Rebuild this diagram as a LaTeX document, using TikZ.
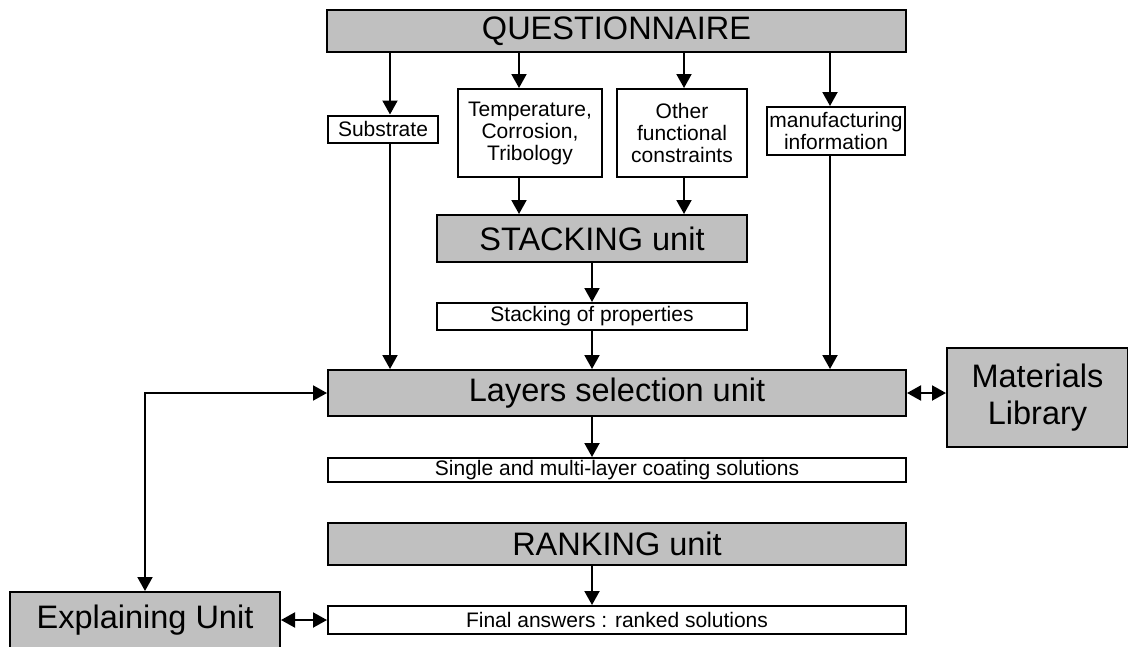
\documentclass[tikz,border=0pt]{standalone}
\usepackage{fontspec}
\setmainfont{Liberation Sans}
\usetikzlibrary{arrows.meta}
\definecolor{boxgray}{HTML}{C0C0C0}
\newcommand{\bigtxt}{\fontsize{32.5}{37}\selectfont}
\newcommand{\smalltxt}{\fontsize{21}{22}\selectfont}
\begin{document}
\begin{tikzpicture}[x=1pt, y=-1pt,
  unitbox/.style={draw, line width=2pt, fill=boxgray, inner sep=0pt, align=center, font=\bigtxt},
  infobox/.style={draw, line width=2pt, fill=white, inner sep=0pt, align=center, font=\smalltxt},
  arr/.style={line width=2pt, -{Triangle[length=14pt, width=15pt]}},
  arrboth/.style={line width=2pt, {Triangle[length=14pt, width=15pt]}-{Triangle[length=14pt, width=15pt]}}]
\useasboundingbox (0,0) rectangle (1128,646);
% units
\node[unitbox, minimum width=579pt, minimum height=42pt] (quest) at (616.5,31) {QUESTIONNAIRE};
\node[unitbox, minimum width=310pt, minimum height=47pt] (stack) at (592,238.5) {STACKING unit};
\node[unitbox, minimum width=578pt, minimum height=46pt] (layers) at (617,393) {Layers selection unit};
\node[unitbox, minimum width=181pt, minimum height=99pt] (matlib) at (1037.5,397.5) {Materials\\Library};
\node[unitbox, minimum width=578pt, minimum height=42pt] (rank) at (617,544) {RANKING unit};
\node[unitbox, minimum width=270pt, minimum height=56pt] (explain) at (145,620) {Explaining Unit};
% data boxes
\node[infobox, minimum width=110pt, minimum height=27pt] (subst) at (383,129) {Substrate};
\node[infobox, minimum width=144pt, minimum height=88pt] (temp) at (530,133) {Temperature,\\Corrosion,\\Tribology};
\node[infobox, minimum width=130pt, minimum height=88pt] (other) at (682,133) {Other\\functional\\constraints};
\node[infobox, minimum width=138pt, minimum height=48pt] (manuf) at (836,131) {manufacturing\\information};
\node[infobox, minimum width=310pt, minimum height=27pt] (props) at (592,316.5) {Stacking of properties};
\node[infobox, minimum width=578pt, minimum height=24pt] (single) at (617,470) {Single and multi-layer coating solutions};
\node[infobox, minimum width=578pt, minimum height=28pt] (final) at (617,620) {Final answers : ranked solutions};
% columns of the arrows
\coordinate (xs) at (390,0);
\coordinate (xt) at (519,0);
\coordinate (xo) at (684,0);
\coordinate (xm) at (830,0);
\coordinate (xc) at (592,0);
\draw[arr] (xs |- quest.south) -- (xs |- subst.north);
\draw[arr] (xt |- quest.south) -- (xt |- temp.north);
\draw[arr] (xo |- quest.south) -- (xo |- other.north);
\draw[arr] (xm |- quest.south) -- (xm |- manuf.north);
\draw[arr] (xt |- temp.south) -- (xt |- stack.north);
\draw[arr] (xo |- other.south) -- (xo |- stack.north);
\draw[arr] (xc |- stack.south) -- (xc |- props.north);
\draw[arr] (xc |- props.south) -- (xc |- layers.north);
\draw[arr] (xs |- subst.south) -- (xs |- layers.north);
\draw[arr] (xm |- manuf.south) -- (xm |- layers.north);
\draw[arr] (xc |- layers.south) -- (xc |- single.north);
\draw[arr] (xc |- rank.south) -- (xc |- final.north);
\draw[arrboth] (layers.east) -- (layers.east -| matlib.west);
\draw[arrboth] (explain.east) -- (final.west);
\draw[arrboth] (explain.north) |- (layers.west);
\end{tikzpicture}
\end{document}
